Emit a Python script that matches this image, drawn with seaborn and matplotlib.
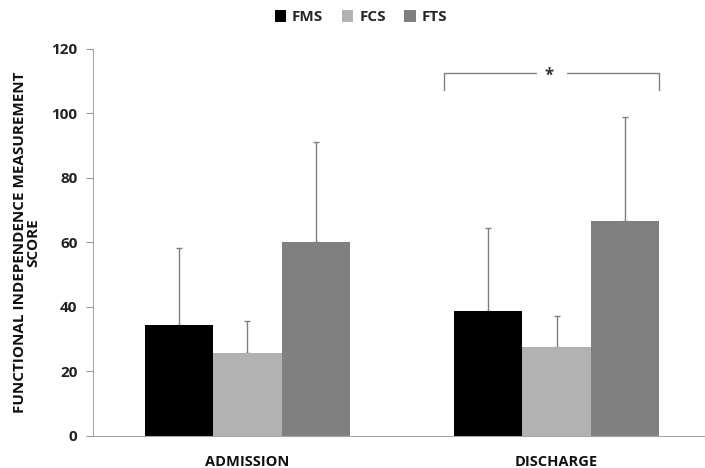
import matplotlib
matplotlib.use("Agg")
import matplotlib.pyplot as plt
import seaborn as sns
import pandas as pd
import numpy as np

# Data
groups = ["ADMISSION", "DISCHARGE"]
measures = ["FMS", "FCS", "FTS"]
fms_mean = [34.4, 38.9]
fcs_mean = [25.6, 27.7]
fts_mean = [60.0, 66.7]
fms_sd = [23.9, 25.5]
fcs_sd = [10.1, 9.5]
fts_sd = [31.3, 32.1]
yticks = [0, 20, 40, 60, 80, 100, 120]
ylabel = "FUNCTIONAL INDEPENDENCE MEASUREMENT\nSCORE"
sig_label = "*"
bracket_y = [107.3, 112.6]

colors = ["#000000", "#b2b2b2", "#808080"]

rows = []
for g_i, g in enumerate(groups):
    for m, means, sds in zip(measures, [fms_mean, fcs_mean, fts_mean], [fms_sd, fcs_sd, fts_sd]):
        rows.append({"group": g, "measure": m, "mean": means[g_i], "sd": sds[g_i]})
df = pd.DataFrame(rows)

sns.set_theme(style="white")
plt.rcParams["font.family"] = ["Open Sans", "DejaVu Sans"]

fig = plt.figure(figsize=(7.05, 4.68), dpi=100)
ax = fig.add_axes([0.1315, 0.0684, 0.8685, 0.8269])

sns.barplot(data=df, x="group", y="mean", hue="measure", order=groups,
            hue_order=measures, palette=colors, width=0.665, gap=0,
            errorbar=None, ax=ax, linewidth=0, saturation=1)

# error bars (upper only) from bar patches
bars = [p for p in ax.patches if p.get_height() > 0]
for m_i, m in enumerate(measures):
    for g_i, g in enumerate(groups):
        sub = df[(df.group == g) & (df.measure == m)].iloc[0]
        p = bars[m_i * len(groups) + g_i]
        xc = p.get_x() + p.get_width() / 2
        ax.errorbar([xc], [sub["mean"]], yerr=[[0], [sub["sd"]]], fmt="none",
                    ecolor="#7f7f7f", elinewidth=1, capsize=2.5, capthick=1, zorder=1)

for p in bars:
    p.set_zorder(2)

# significance bracket over discharge
dis_bars = [bars[m_i * len(groups) + 1] for m_i in range(len(measures))]
xl = dis_bars[0].get_x() - 0.03
xr = dis_bars[-1].get_x() + dis_bars[-1].get_width()
xm = (xl + xr) / 2
gap = 0.05
ax.plot([xl, xl, xm - gap], [bracket_y[0], bracket_y[1], bracket_y[1]], color="#7f7f7f", lw=1, clip_on=False)
ax.plot([xm + gap, xr, xr], [bracket_y[1], bracket_y[1], bracket_y[0]], color="#7f7f7f", lw=1, clip_on=False)
ax.text(xm - 0.01, bracket_y[1] - 0.8, sig_label, ha="center", va="center", fontsize=12, fontweight="bold", color="#333333")

ax.set_xlim(-0.5, 1.48)
ax.set_ylim(0, 120)
ax.set_yticks(yticks)
ax.set_yticklabels([str(t) for t in yticks], fontsize=11, fontweight="bold", color="#222222")
ax.tick_params(axis="y", which="both", left=True, length=5, width=0.8, color="#999999", pad=6)
ax.tick_params(axis="x", bottom=False, pad=8)
for lab in ax.get_xticklabels():
    lab.set_fontweight("bold")
    lab.set_fontsize(10.5)
    lab.set_color("#111111")
ax.set_xlabel("")
ax.set_ylabel(ylabel, fontsize=11, fontweight="bold", color="#111111", labelpad=8, linespacing=0.95)

sns.despine(ax=ax, top=True, right=True)
ax.spines["left"].set_color("#a6a6a6")
ax.spines["bottom"].set_color("#a6a6a6")
ax.spines["left"].set_linewidth(0.8)
ax.spines["bottom"].set_linewidth(0.8)

handles, labels = ax.get_legend_handles_labels()
ax.legend_.remove()
fig.legend(handles, labels, loc="center", bbox_to_anchor=(0.512, 0.963), ncol=3, frameon=False,
           prop={"weight": "bold", "size": 11}, handlelength=0.75, handleheight=0.75,
           handletextpad=0.4, columnspacing=1.2)

fig.savefig("out.png", dpi=100)
